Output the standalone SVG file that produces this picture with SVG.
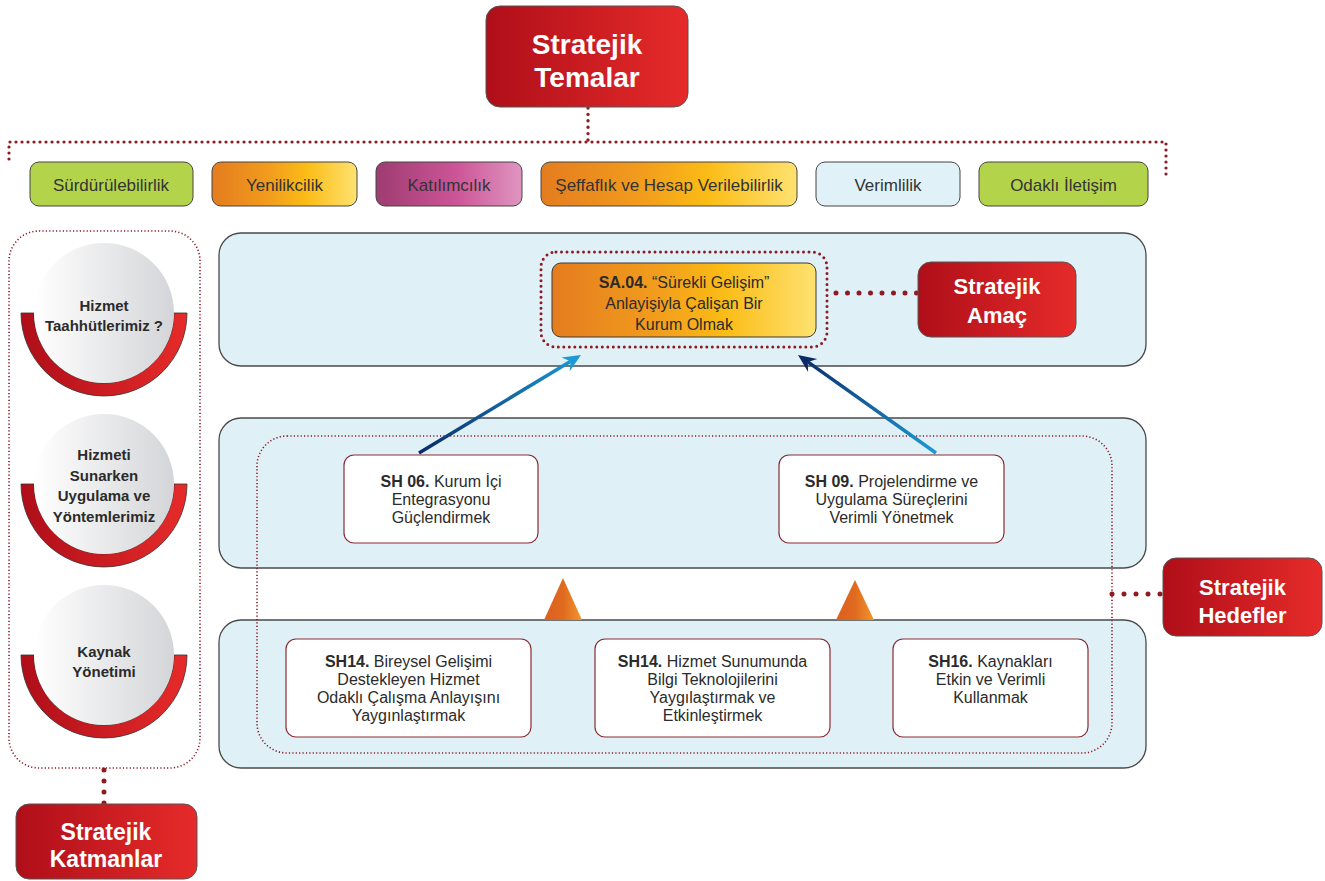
<svg xmlns="http://www.w3.org/2000/svg" width="1325" height="881" viewBox="0 0 1325 881">
<defs>
<linearGradient id="red" x1="0" y1="0" x2="1" y2="0"><stop offset="0" stop-color="#af0e19"/><stop offset="1" stop-color="#e62b2a"/></linearGradient>
<linearGradient id="orange" x1="0" y1="0" x2="1" y2="0"><stop offset="0" stop-color="#e47c1f"/><stop offset="0.4" stop-color="#f29d1d"/><stop offset="0.65" stop-color="#fbbc16"/><stop offset="1" stop-color="#fee270"/></linearGradient>
<linearGradient id="purple" x1="0" y1="0" x2="1" y2="0"><stop offset="0" stop-color="#9e3c71"/><stop offset="0.55" stop-color="#cc5597"/><stop offset="1" stop-color="#df95c0"/></linearGradient>
<linearGradient id="disc" x1="0" y1="0" x2="1" y2="0"><stop offset="0" stop-color="#ffffff"/><stop offset="1" stop-color="#d4d5d8"/></linearGradient>
<linearGradient id="tri" x1="0" y1="0" x2="1" y2="0"><stop offset="0" stop-color="#dc5f1e"/><stop offset="0.5" stop-color="#e06a20"/><stop offset="1" stop-color="#f3952c"/></linearGradient>
<linearGradient id="a1" gradientUnits="userSpaceOnUse" x1="419" y1="453" x2="581" y2="355"><stop offset="0" stop-color="#0b2a66"/><stop offset="1" stop-color="#1b9ad6"/></linearGradient>
<linearGradient id="a2" gradientUnits="userSpaceOnUse" x1="936" y1="453" x2="798" y2="355"><stop offset="0" stop-color="#1b9ad6"/><stop offset="1" stop-color="#0b2a66"/></linearGradient>
<style>
text{font-family:"Liberation Sans",Arial,sans-serif;text-anchor:middle;}
.hdr{fill:url(#red);stroke:#555;stroke-width:1;}
.hdrt{fill:#fff;font-weight:bold;}
.theme{stroke:#444;stroke-width:1;}
.tt{font-size:17px;fill:#333;}
.panel{fill:#dff1f6;stroke:#4a4a4a;stroke-width:1.3;}
.sh{fill:#fff;stroke:#8b2a32;stroke-width:1.2;}
.st{font-size:16px;fill:#2b2b2b;}
.ct{font-size:15px;fill:#2b2b2b;font-weight:bold;}
.ring{fill:url(#red);stroke:#333;stroke-width:0.8;}
.disc{fill:url(#disc);}
.dots{fill:none;stroke:#8e1a22;stroke-linecap:round;}
.fine{fill:none;stroke:#8b1a2a;stroke-width:1.6;stroke-dasharray:1.2 2.2;}
</style>
</defs>
<rect width="1325" height="881" fill="#fff"/>

<g id="panel-amac"><rect class="panel" x="219" y="233" width="927" height="133" rx="22"/></g>
<g id="panel-hedefler"><rect class="panel" x="219" y="418" width="927" height="150" rx="22"/></g>
<g id="panel-kaynak"><rect class="panel" x="219" y="620" width="927" height="148" rx="22"/></g>

<g id="hedefler-frame"><rect class="fine" x="257" y="436" width="855" height="317" rx="30"/></g>
<g id="katmanlar-frame"><rect class="fine" x="9" y="231" width="191" height="537" rx="30"/></g>

<g id="connectors">
<path class="dots" stroke-width="3.4" stroke-dasharray="0 6.4" d="M588 108 V142"/>
<path class="dots" stroke-width="3.2" stroke-dasharray="0 6" d="M9 159 V142 H1166 V176"/>
<path class="dots" stroke-width="5" stroke-dasharray="0 11.5" d="M836 293 H920"/>
<path class="dots" stroke-width="5" stroke-dasharray="0 12" d="M1112 594 H1162"/>
<path class="dots" stroke-width="5" stroke-dasharray="0 11" d="M104 770 V804"/>
<line x1="419" y1="453" x2="570.7" y2="361.2" stroke="url(#a1)" stroke-width="3.5"/>
<polygon points="581,355 569.7,371.2 570.7,361.2 561.5,357.4" fill="#1b9ad6"/>
<line x1="936" y1="453" x2="807.8" y2="361.9" stroke="url(#a2)" stroke-width="3.5"/>
<polygon points="798,355 817.3,358.9 807.8,361.9 808.1,371.9" fill="#0b2a66"/>
</g>

<g id="stratejik-temalar">
<rect class="hdr" x="486" y="6" width="202" height="101" rx="14"/>
<text class="hdrt" x="587" y="54" font-size="28">Stratejik</text>
<text class="hdrt" x="587" y="87" font-size="28">Temalar</text>
</g>

<g id="theme-surdurulebilirlik"><rect class="theme" x="30" y="162" width="163" height="44" rx="9" fill="#b3d44a"/><text class="tt" x="111" y="191">Sürdürülebilirlik</text></g>
<g id="theme-yenilikcilik"><rect class="theme" x="212" y="162" width="145" height="44" rx="9" fill="url(#orange)"/><text class="tt" x="284.5" y="191">Yenilikcilik</text></g>
<g id="theme-katilimcilik"><rect class="theme" x="376" y="162" width="146" height="44" rx="9" fill="url(#purple)"/><text class="tt" x="449" y="191">Katılımcılık</text></g>
<g id="theme-seffaflik"><rect class="theme" x="541" y="162" width="256" height="44" rx="9" fill="url(#orange)"/><text class="tt" x="669" y="191">Şeffaflık ve Hesap Verilebilirlik</text></g>
<g id="theme-verimlilik"><rect class="theme" x="816" y="162" width="144" height="44" rx="9" fill="#e0f1f7"/><text class="tt" x="888" y="191">Verimlilik</text></g>
<g id="theme-odakli"><rect class="theme" x="979" y="162" width="169" height="44" rx="9" fill="#b3d44a"/><text class="tt" x="1063.5" y="191">Odaklı İletişim</text></g>

<g id="layer-taahhut">
<path class="ring" d="M21 313 A83 83 0 0 0 187 313 L174 313 A70 70 0 0 1 34 313 Z"/>
<circle class="disc" cx="104" cy="313" r="70"/>
<text class="ct" x="104" y="311">Hizmet</text>
<text class="ct" x="104" y="331">Taahhütlerimiz ?</text>
</g>
<g id="layer-uygulama">
<path class="ring" d="M21 484 A83 83 0 0 0 187 484 L174 484 A70 70 0 0 1 34 484 Z"/>
<circle class="disc" cx="104" cy="484" r="70"/>
<text class="ct" x="104" y="460">Hizmeti</text>
<text class="ct" x="104" y="481">Sunarken</text>
<text class="ct" x="104" y="501">Uygulama ve</text>
<text class="ct" x="104" y="522">Yöntemlerimiz</text>
</g>
<g id="layer-kaynak">
<path class="ring" d="M21 655 A83 83 0 0 0 187 655 L174 655 A70 70 0 0 1 34 655 Z"/>
<circle class="disc" cx="104" cy="655" r="70"/>
<text class="ct" x="104" y="657">Kaynak</text>
<text class="ct" x="104" y="677">Yönetimi</text>
</g>

<g id="stratejik-katmanlar">
<rect class="hdr" x="16" y="804" width="181" height="75" rx="13"/>
<text class="hdrt" x="106" y="840" font-size="23">Stratejik</text>
<text class="hdrt" x="106" y="867" font-size="23">Katmanlar</text>
</g>

<g id="sa04">
<rect x="541" y="252" width="286" height="95" rx="15" fill="none" stroke="#8e1a22" stroke-width="3" stroke-linecap="round" stroke-dasharray="0 5.5"/>
<rect x="552" y="263" width="264" height="74" rx="9" fill="url(#orange)" stroke="#3a3a3a" stroke-width="1"/>
<text class="st" x="684" y="288" font-size="16.5"><tspan font-weight="bold">SA.04.</tspan> “Sürekli Gelişim”</text>
<text class="st" x="684" y="309" font-size="16.5">Anlayişiyla Çalişan Bir</text>
<text class="st" x="684" y="330" font-size="16.5">Kurum Olmak</text>
</g>

<g id="stratejik-amac">
<rect class="hdr" x="918" y="262" width="158" height="75" rx="13"/>
<text class="hdrt" x="997" y="294" font-size="22">Stratejik</text>
<text class="hdrt" x="997" y="323" font-size="22">Amaç</text>
</g>

<g id="sh06">
<rect class="sh" x="344" y="455" width="194" height="88" rx="10"/>
<text class="st" x="441" y="487"><tspan font-weight="bold">SH 06.</tspan> Kurum İçi</text>
<text class="st" x="441" y="505">Entegrasyonu</text>
<text class="st" x="441" y="523">Güçlendirmek</text>
</g>
<g id="sh09">
<rect class="sh" x="779" y="455" width="225" height="88" rx="10"/>
<text class="st" x="891.5" y="487"><tspan font-weight="bold">SH 09.</tspan> Projelendirme ve</text>
<text class="st" x="891.5" y="505">Uygulama Süreçlerini</text>
<text class="st" x="891.5" y="523">Verimli Yönetmek</text>
</g>

<g id="triangles">
<polygon points="563,578 544,620 582,620" fill="url(#tri)"/>
<polygon points="855,580 836,620 874,620" fill="url(#tri)"/>
</g>

<g id="sh14-bireysel">
<rect class="sh" x="286" y="639" width="245" height="98" rx="10"/>
<text class="st" x="408.5" y="667"><tspan font-weight="bold">SH14.</tspan> Bireysel Gelişimi</text>
<text class="st" x="408.5" y="685">Destekleyen Hizmet</text>
<text class="st" x="408.5" y="703">Odaklı Çalışma Anlayışını</text>
<text class="st" x="408.5" y="721">Yaygınlaştırmak</text>
</g>
<g id="sh14-bilgi">
<rect class="sh" x="595" y="639" width="235" height="98" rx="10"/>
<text class="st" x="712.5" y="667"><tspan font-weight="bold">SH14.</tspan> Hizmet Sunumunda</text>
<text class="st" x="712.5" y="685">Bilgi Teknolojilerini</text>
<text class="st" x="712.5" y="703">Yaygılaştırmak ve</text>
<text class="st" x="712.5" y="721">Etkinleştirmek</text>
</g>
<g id="sh16">
<rect class="sh" x="893" y="639" width="195" height="98" rx="10"/>
<text class="st" x="990.5" y="667"><tspan font-weight="bold">SH16.</tspan> Kaynakları</text>
<text class="st" x="990.5" y="685">Etkin ve Verimli</text>
<text class="st" x="990.5" y="703">Kullanmak</text>
</g>

<g id="stratejik-hedefler">
<rect class="hdr" x="1163" y="558" width="159" height="78" rx="13"/>
<text class="hdrt" x="1242.5" y="595" font-size="22">Stratejik</text>
<text class="hdrt" x="1242.5" y="623" font-size="22">Hedefler</text>
</g>
</svg>
